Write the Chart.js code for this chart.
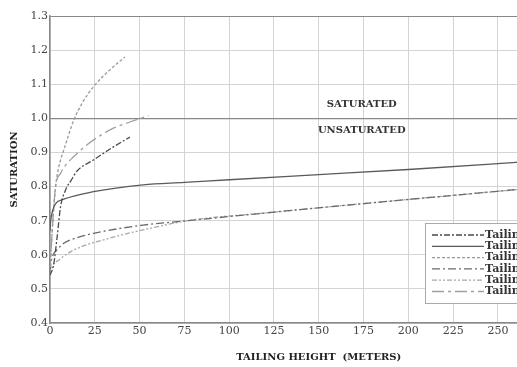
<!DOCTYPE html>
<html>
<head>
<meta charset="utf-8">
<script src="https://cdn.jsdelivr.net/npm/chart.js@4/dist/chart.umd.min.js"></script>
<style>
  html, body { margin: 0; padding: 0; background: #fff; overflow: hidden; width: 517px; height: 367px; }
  #wrap { width: 600px; height: 367px; }
</style>
</head>
<body>
<div id="wrap"><canvas id="chart" width="600" height="367"></canvas></div>
<script>
// tailing height (m) / saturation readings for each curve
const seriesNames = ["Tailings 1", "Tailings 2", "Tailings 3", "Tailings 4", "Tailings 5", "Tailings 6"];

const t1X = [0, 2, 4, 5.9, 8.7, 12, 15, 24.3, 35, 44.6];
const t1Y = [0.54, 0.57, 0.653, 0.741, 0.79, 0.82, 0.845, 0.878, 0.915, 0.945];

const t2X = [0, 0.4, 1.5, 3.1, 7.7, 24.3, 52, 75, 100, 150, 200, 258, 300];
const t2Y = [0.67, 0.70, 0.73, 0.75, 0.763, 0.785, 0.805, 0.812, 0.82, 0.835, 0.85, 0.87, 0.885];

const t3X = [0, 1, 2, 3.1, 5, 7.7, 13.3, 18, 24.3, 33, 41.8];
const t3Y = [0.55, 0.65, 0.73, 0.80, 0.86, 0.907, 0.995, 1.045, 1.093, 1.14, 1.18];

const t4X = [0, 0.5, 1.3, 4, 7.7, 15, 24.3, 52, 77, 125, 175, 258, 300];
const t4Y = [0.55, 0.575, 0.594, 0.615, 0.634, 0.65, 0.663, 0.687, 0.70, 0.725, 0.75, 0.79, 0.81];

const t5X = [0, 0.5, 1.3, 5, 13.3, 33.5, 52, 77, 125, 175, 258, 300];
const t5Y = [0.54, 0.55, 0.565, 0.585, 0.614, 0.649, 0.673, 0.70, 0.725, 0.75, 0.79, 0.81];

const t6X = [0, 1, 2, 3.1, 6, 9, 13.3, 20, 33.5, 45, 55];
const t6Y = [0.55, 0.65, 0.73, 0.80, 0.84, 0.865, 0.888, 0.92, 0.966, 0.99, 1.008];

const xTicks = [0, 25, 50, 75, 100, 125, 150, 175, 200, 225, 250, 275, 300];
const yTicks = [0.4, 0.5, 0.6, 0.7, 0.8, 0.9, 1.0, 1.1, 1.2, 1.3];

const lineColors = ["#4a4a4a", "#5a5a5a", "#9a9a9a", "#6a6a6a", "#a8a8a8", "#a0a0a0"];
const lineDashes = [[6, 2, 2, 2], [], [3, 2], [8, 3, 2, 3], [5, 2, 2, 2, 2, 2], [12, 4, 3, 4]];

const serif = "'DejaVu Serif', 'Liberation Serif', serif";

function pts(xs, ys) {
  return xs.map((x, i) => ({ x: x, y: ys[i] }));
}

const allData = [pts(t1X, t1Y), pts(t2X, t2Y), pts(t3X, t3Y), pts(t4X, t4Y), pts(t5X, t5Y), pts(t6X, t6Y)];

const datasets = allData.map((d, i) => ({
  label: seriesNames[i],
  data: d,
  showLine: true,
  borderColor: lineColors[i],
  borderWidth: 1.3,
  borderDash: lineDashes[i],
  pointRadius: 0,
  cubicInterpolationMode: "monotone",
  fill: false,
}));

// SATURATED / UNSATURATED labels
const zoneLabels = {
  id: "zoneLabels",
  afterDatasetsDraw(chart) {
    const { ctx, scales } = chart;
    ctx.save();
    ctx.font = "bold 10px " + serif;
    ctx.fillStyle = "#333";
    ctx.textAlign = "center";
    ctx.textBaseline = "middle";
    ctx.fillText("SATURATED", scales.x.getPixelForValue(174), scales.y.getPixelForValue(1.042));
    ctx.fillText("UNSATURATED", scales.x.getPixelForValue(174), scales.y.getPixelForValue(0.966));
    ctx.restore();
  },
};

// legend box drawn inside the plot, lower right
const boxLegend = {
  id: "boxLegend",
  afterDatasetsDraw(chart) {
    const ctx = chart.ctx;
    const left = 425, top = 223, w = 160, h = 80;
    ctx.save();
    ctx.fillStyle = "#fff";
    ctx.fillRect(left, top, w, h);
    ctx.strokeStyle = "#aaa";
    ctx.lineWidth = 1;
    ctx.strokeRect(left + 0.5, top + 0.5, w, h);
    ctx.font = "bold 11px " + serif;
    ctx.textBaseline = "middle";
    ctx.fillStyle = "#333";
    seriesNames.forEach((name, i) => {
      const y = top + 12 + i * 11.3;
      ctx.strokeStyle = lineColors[i];
      ctx.lineWidth = 1.3;
      ctx.setLineDash(lineDashes[i]);
      ctx.beginPath();
      ctx.moveTo(432, y);
      ctx.lineTo(484, y);
      ctx.stroke();
      ctx.setLineDash([]);
      ctx.fillText(name, 485, y);
    });
    ctx.restore();
  },
};

new Chart(document.getElementById("chart"), {
  type: "scatter",
  data: { datasets: datasets },
  options: {
    responsive: false,
    devicePixelRatio: 1,
    animation: false,
    layout: { padding: { top: 16, right: 6, left: 0, bottom: 0 } },
    plugins: { legend: { display: false }, tooltip: { enabled: false } },
    scales: {
      x: {
        type: "linear",
        min: 0,
        max: 300,
        afterBuildTicks: (s) => { s.ticks = xTicks.map((v) => ({ value: v })); },
        afterFit: (s) => { s.height = 44; },
        grid: { color: "#d4d4d4", lineWidth: 1, drawTicks: false },
        border: { color: "#888", width: 1.5 },
        ticks: { color: "#444", font: { family: serif, size: 11 }, padding: 2 },
        title: {
          display: true,
          text: "TAILING HEIGHT  (METERS)",
          color: "#222",
          font: { family: serif, size: 10, weight: "bold" },
          padding: { top: 12 },
        },
      },
      y: {
        min: 0.4,
        max: 1.3,
        afterBuildTicks: (s) => { s.ticks = yTicks.map((v) => ({ value: v })); },
        afterFit: (s) => { s.width = 50; },
        grid: {
          color: (c) => (c.tick && (Math.abs(c.tick.value - 1.0) < 1e-6 || Math.abs(c.tick.value - 1.3) < 1e-6) ? "#888" : "#d4d4d4"),
          lineWidth: (c) => (c.tick && Math.abs(c.tick.value - 1.0) < 1e-6 ? 1.3 : 1),
          drawTicks: false,
        },
        border: { color: "#888", width: 1.5 },
        ticks: {
          color: "#444",
          font: { family: serif, size: 11 },
          padding: 2,
          callback: (v) => v.toFixed(1),
        },
        title: {
          display: true,
          text: "SATURATION",
          color: "#222",
          font: { family: serif, size: 10, weight: "bold" },
          padding: { top: 8, bottom: 0 },
        },
      },
    },
  },
  plugins: [zoneLabels, boxLegend],
});
</script>
</body>
</html>
